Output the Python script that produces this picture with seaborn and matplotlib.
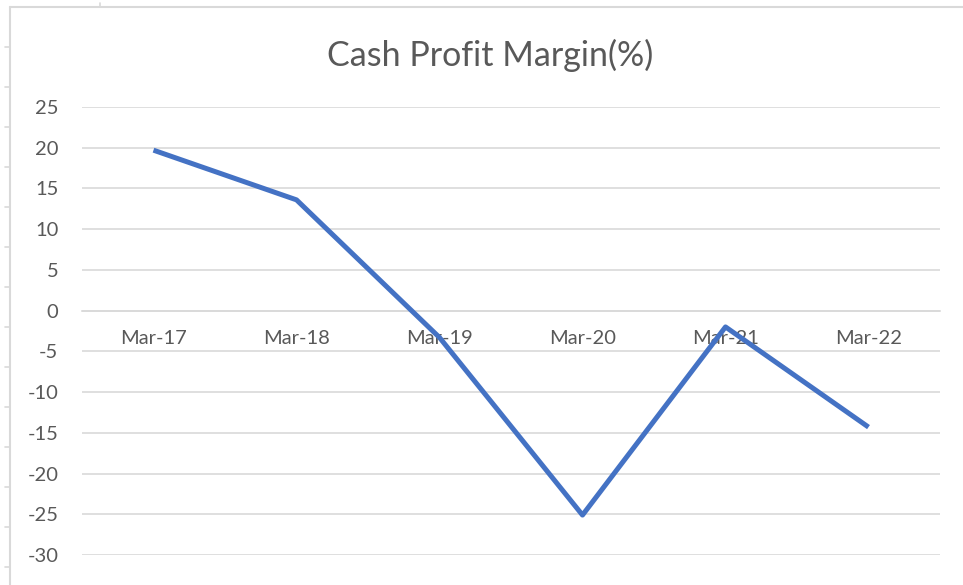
import matplotlib
matplotlib.use("Agg")
import matplotlib.pyplot as plt
import numpy as np
import pandas as pd
import seaborn as sns
from matplotlib.lines import Line2D

periods = ["Mar-17", "Mar-18", "Mar-19", "Mar-20", "Mar-21", "Mar-22"]
margin = [19.7, 13.6, -3.3, -25.1, -2.0, -14.3]
y_ticks = [25, 20, 15, 10, 5, 0, -5, -10, -15, -20, -25, -30]

df = pd.DataFrame({"pos": np.arange(len(periods)), "margin": margin})

sns.set_theme(style="white")
plt.rcParams["font.family"] = ["Lato", "DejaVu Sans"]

text_col = "#595959"
grid_col = "#d9d9d9"

fig = plt.figure(figsize=(9.63, 5.85), dpi=100)
ax = fig.add_axes([82 / 963, 1 - 555 / 585, (940 - 82) / 963, (555 - 107) / 585])

# horizontal gridlines
for v in y_ticks:
    ax.axhline(v, color=grid_col, lw=1.2, zorder=0)

sns.lineplot(data=df, x="pos", y="margin", color="#4472C4", lw=3.6,
             ax=ax, zorder=3, solid_capstyle="butt")

ax.set_xlim(-0.5, len(periods) - 0.5)
ax.set_ylim(-30, 25)
ax.set_yticks(y_ticks)
ax.set_yticklabels([str(v) for v in y_ticks])
ax.set_xticks(np.arange(len(periods)))
ax.set_xticklabels(periods)
ax.set_xticks(np.arange(-0.5, len(periods)), minor=True)

for s in ["top", "right", "left"]:
    ax.spines[s].set_visible(False)
ax.spines["bottom"].set_position(("data", 0))
ax.spines["bottom"].set_color(grid_col)
ax.spines["bottom"].set_linewidth(1.2)

ax.tick_params(axis="x", which="major", length=0, pad=14, labelsize=14.5, labelcolor=text_col)
ax.tick_params(axis="x", which="minor", length=5, width=1.2, color=grid_col, direction="out")
ax.tick_params(axis="y", length=0, pad=17, labelsize=14.5, labelcolor=text_col)
ax.set_xlabel("")
ax.set_ylabel("")

fig.text(490 / 963, 1 - 55 / 585, "Cash Profit Margin(%)", ha="center", va="center",
         fontsize=24.5, color=text_col)

# spreadsheet cell border around the chart
fig.add_artist(Line2D([10 / 963, 10 / 963], [0, 1 - 7 / 585], transform=fig.transFigure,
                      color=grid_col, lw=1.5))
fig.add_artist(Line2D([10 / 963, 1], [1 - 7 / 585, 1 - 7 / 585], transform=fig.transFigure,
                      color=grid_col, lw=1.5))
for yy in range(47, 585, 40):
    fig.add_artist(Line2D([5 / 963, 10 / 963], [1 - yy / 585, 1 - yy / 585],
                          transform=fig.transFigure, color=grid_col, lw=1.2))
fig.add_artist(Line2D([100 / 963, 100 / 963], [1 - 3 / 585, 1 - 7 / 585],
                      transform=fig.transFigure, color=grid_col, lw=1.2))

fig.savefig("out.png", dpi=100)
